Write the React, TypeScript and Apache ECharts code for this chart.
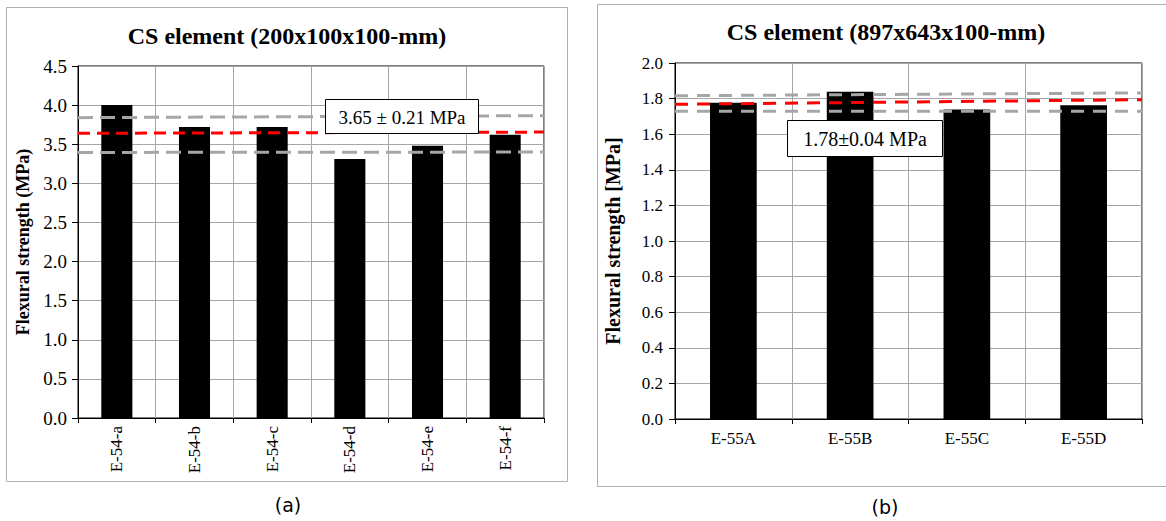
import React, { useEffect, useRef } from "react";
import * as echarts from "echarts";

const leftTitle = "CS element (200x100x100-mm)";
const rightTitle = "CS element (897x643x100-mm)";
const leftCategories = ["E-54-a", "E-54-b", "E-54-c", "E-54-d", "E-54-e", "E-54-f"];
const leftValues = [4.0, 3.72, 3.72, 3.31, 3.48, 3.62];
const rightCategories = ["E-55A", "E-55B", "E-55C", "E-55D"];
const rightValues = [1.777, 1.838, 1.739, 1.762];

// dashed reference lines: [value at left end, value at right end]
const leftUpper = [3.84, 3.865];
const leftMean = [3.64, 3.655];
const leftLower = [3.395, 3.4];
const rightUpper = [1.816, 1.832];
const rightMean = [1.768, 1.794];
const rightLower = [1.729, 1.729];

const leftBoxText = "3.65 ± 0.21 MPa";
const rightBoxText = "1.78±0.04 MPa";
const leftYName = "Flexural strength (MPa)";
const rightYName = "Flexural strength [MPa]";
const captions = ["(a)", "(b)"];

const SERIF = "Liberation Serif";
const GRID_GREY = "#a6a6a6";

function dashLine(name: string, vals: number[], xIdx: number, yIdx: number, color: string, dash: number[]) {
  return {
    name,
    type: "line",
    xAxisIndex: xIdx,
    yAxisIndex: yIdx,
    data: [[0, vals[0]], [1, vals[1]]],
    symbol: "none",
    silent: true,
    z: 5,
    lineStyle: { color, width: 3, type: dash },
  };
}

export default function App() {
  const ref = useRef<HTMLDivElement>(null);
  useEffect(() => {
    if (!ref.current) return;
    const chart = echarts.init(ref.current, null, { renderer: "svg" });
    const catAxis = (gridIndex: number, data: string[], rotate: number, fs: number, margin: number) => ({
      type: "category",
      gridIndex,
      data,
      boundaryGap: true,
      axisLine: { show: true, lineStyle: { color: "#000", width: 1 } },
      axisTick: { show: true, length: 5, lineStyle: { color: "#000" } },
      axisLabel: { rotate, color: "#000", fontFamily: SERIF, fontSize: fs, margin, interval: 0 },
      splitLine: { show: true, lineStyle: { color: GRID_GREY, width: 1 } },
    });
    const valAxis = (gridIndex: number, max: number, interval: number, name: string, nfs: number, gap: number, fs: number, margin: number) => ({
      type: "value",
      gridIndex,
      min: 0,
      max,
      interval,
      name,
      nameLocation: "middle",
      nameRotate: 90,
      nameGap: gap,
      nameTextStyle: { fontFamily: SERIF, fontWeight: "bold", fontSize: nfs, color: "#000" },
      axisLine: { show: true, lineStyle: { color: "#000", width: 1 } },
      axisTick: { show: true, length: 6, lineStyle: { color: "#000" } },
      axisLabel: {
        color: "#000",
        fontFamily: SERIF,
        fontSize: fs,
        margin,
        formatter: (v: number) => v.toFixed(1),
      },
      splitLine: { show: true, lineStyle: { color: GRID_GREY, width: 1 } },
    });
    const hiddenX = (gridIndex: number) => ({ type: "value", gridIndex, min: 0, max: 1, show: false });

    chart.setOption({
      animation: false,
      backgroundColor: "#fff",
      textStyle: { fontFamily: SERIF },
      grid: [
        { left: 78, right: 622, top: 66, bottom: 103, show: true, borderColor: "#000", borderWidth: 1, backgroundColor: "transparent" },
        { left: 675, right: 24, top: 63, bottom: 102, show: true, borderColor: "#000", borderWidth: 1, backgroundColor: "transparent" },
      ],
      xAxis: [
        catAxis(0, leftCategories, 90, 17, 8),
        catAxis(1, rightCategories, 0, 17, 11),
        hiddenX(0),
        hiddenX(1),
      ],
      yAxis: [
        valAxis(0, 4.5, 0.5, leftYName, 18, 46, 19, 11),
        valAxis(1, 2.0, 0.2, rightYName, 20, 52, 17, 12),
      ],
      series: [
        { type: "bar", xAxisIndex: 0, yAxisIndex: 0, data: leftValues, barWidth: "40%", itemStyle: { color: "#000" }, z: 2 },
        { type: "bar", xAxisIndex: 1, yAxisIndex: 1, data: rightValues, barWidth: "40%", itemStyle: { color: "#000" }, z: 2 },
        dashLine("lu", leftUpper, 2, 0, "#a6a6a6", [15, 7]),
        dashLine("ll", leftLower, 2, 0, "#a6a6a6", [15, 7]),
        dashLine("lm", leftMean, 2, 0, "#ff0000", [12, 7]),
        dashLine("ru", rightUpper, 3, 1, "#a6a6a6", [13, 9]),
        dashLine("rl", rightLower, 3, 1, "#a6a6a6", [13, 9]),
        dashLine("rm", rightMean, 3, 1, "#ff0000", [13, 9]),
      ],
      graphic: [
        { type: "rect", shape: { x: 6.5, y: 7.5, width: 561, height: 474 }, style: { fill: "none", stroke: "#b0b0b0", lineWidth: 1 }, silent: true, z: -10 },
        { type: "rect", shape: { x: 597.5, y: 4.5, width: 600, height: 482 }, style: { fill: "none", stroke: "#b0b0b0", lineWidth: 1 }, silent: true, z: -10 },
        { type: "text", x: 287, y: 36, style: { text: leftTitle, fontFamily: SERIF, fontWeight: "bold", fontSize: 24, fill: "#000", textAlign: "center", textVerticalAlign: "middle" } },
        { type: "text", x: 886, y: 32, style: { text: rightTitle, fontFamily: SERIF, fontWeight: "bold", fontSize: 24, fill: "#000", textAlign: "center", textVerticalAlign: "middle" } },
        { type: "rect", shape: { x: 325.5, y: 99.5, width: 153, height: 34 }, style: { fill: "#fff", stroke: "#000", lineWidth: 1 }, z: 100 },
        { type: "text", x: 402, y: 117, z: 101, style: { text: leftBoxText, fontFamily: SERIF, fontSize: 19, fill: "#000", textAlign: "center", textVerticalAlign: "middle" } },
        { type: "rect", shape: { x: 787.5, y: 120.5, width: 155, height: 36 }, style: { fill: "#fff", stroke: "#000", lineWidth: 1 }, z: 100 },
        { type: "text", x: 865, y: 139, z: 101, style: { text: rightBoxText, fontFamily: SERIF, fontSize: 20, fill: "#000", textAlign: "center", textVerticalAlign: "middle" } },
        { type: "text", x: 288, y: 505, style: { text: captions[0], fontFamily: "DejaVu Sans", fontSize: 19, fill: "#000", textAlign: "center", textVerticalAlign: "middle" } },
        { type: "text", x: 885, y: 507, style: { text: captions[1], fontFamily: "DejaVu Sans", fontSize: 19, fill: "#000", textAlign: "center", textVerticalAlign: "middle" } },
      ],
    });
    return () => chart.dispose();
  }, []);
  return (
    <div
      ref={ref}
      style={{ position: "absolute", left: 0, top: 0, width: 1166, height: 521, background: "#fff" }}
    />
  );
}
